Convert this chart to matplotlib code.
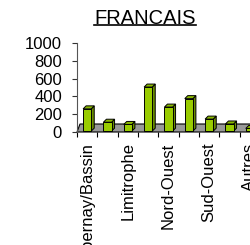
import matplotlib
matplotlib.use("Agg")
import matplotlib.pyplot as plt
from matplotlib.patches import Polygon
from matplotlib.lines import Line2D
import numpy as np

plt.rcParams['font.family'] = ['Liberation Sans', 'DejaVu Sans']

title = "FRANCAIS"
categories = ["Epernay/Bassin", "", "Limitrophe", "", "Nord-Ouest", "", "Sud-Ouest", "", "Autres"]
values = [260, 110, 85, 505, 280, 375, 145, 90, 40]
yticks = [0, 200, 400, 600, 800, 1000]

W, H = 251, 245
fig = plt.figure(figsize=(W / 100, H / 100), dpi=100)
ax = fig.add_axes([77 / W, 113 / H, 183 / W, 89 / H])
n = len(categories)
ax.set_xlim(0, n)
ax.set_ylim(0, 1000)

for s in ["top", "right", "bottom"]:
    ax.spines[s].set_visible(False)
ax.spines["left"].set_color("#555555")
ax.spines["left"].set_linewidth(0.8)

ax.set_yticks(yticks)
ax.set_yticklabels([str(v) for v in yticks], fontsize=12)
ax.tick_params(axis="y", length=3.6, width=0.8, pad=7.2, color="#333333")

centers = np.arange(n) + 0.5
shown = [i for i, c in enumerate(categories) if c]
ax.set_xticks(centers[shown])
ax.set_xticklabels([categories[i] for i in shown], rotation=90, fontsize=12, va="top", ha="center")
ax.set_xticks(np.arange(n + 1), minor=True)
ax.tick_params(axis="x", which="major", length=0, pad=7.5)
ax.tick_params(axis="x", which="minor", length=3.6, width=0.8, direction="out", color="black")

fig.canvas.draw()
td = ax.transData
inv = td.inverted()


def off(p, dx, dy):
    d = td.transform(p)
    return inv.transform((d[0] + dx, d[1] + dy))


# floor
fdx, fdy = 3, 8
f0 = (0, 0); f1 = (n, 0)
floor = [f0, f1, off(f1, fdx, fdy), off(f0, fdx, fdy)]
ax.add_patch(Polygon(floor, closed=True, facecolor="#999999", edgecolor="black", lw=0.8, zorder=1, clip_on=False))

# bars
bw = 0.4
bdx, bdy = 3, 3
base = 10
for c, v in zip(centers, values):
    x0, x1 = c - bw / 2, c + bw / 2
    front = [(x0, base), (x1, base), (x1, v), (x0, v)]
    side = [(x1, base), off((x1, base), bdx, bdy), off((x1, v), bdx, bdy), (x1, v)]
    top = [(x0, v), (x1, v), off((x1, v), bdx, bdy), off((x0, v), bdx, bdy)]
    ax.add_patch(Polygon(side, closed=True, facecolor="#6b8e00", edgecolor="black", lw=0.7, zorder=3, clip_on=False))
    ax.add_patch(Polygon(top, closed=True, facecolor="#8ab800", edgecolor="black", lw=0.7, zorder=3, clip_on=False))
    ax.add_patch(Polygon(front, closed=True, facecolor="#99cc00", edgecolor="black", lw=0.7, zorder=4, clip_on=False))

# title with underline
t = fig.text(145 / W, 1 - 23.5 / H, title, ha="center", va="baseline", fontsize=14.5)
fig.canvas.draw()
bb = t.get_window_extent()
uy = 1 - 25 / H
fig.add_artist(Line2D([bb.x0 / W, bb.x1 / W], [uy, uy], color="black", lw=1.2))

fig.savefig("out.png", dpi=100)
